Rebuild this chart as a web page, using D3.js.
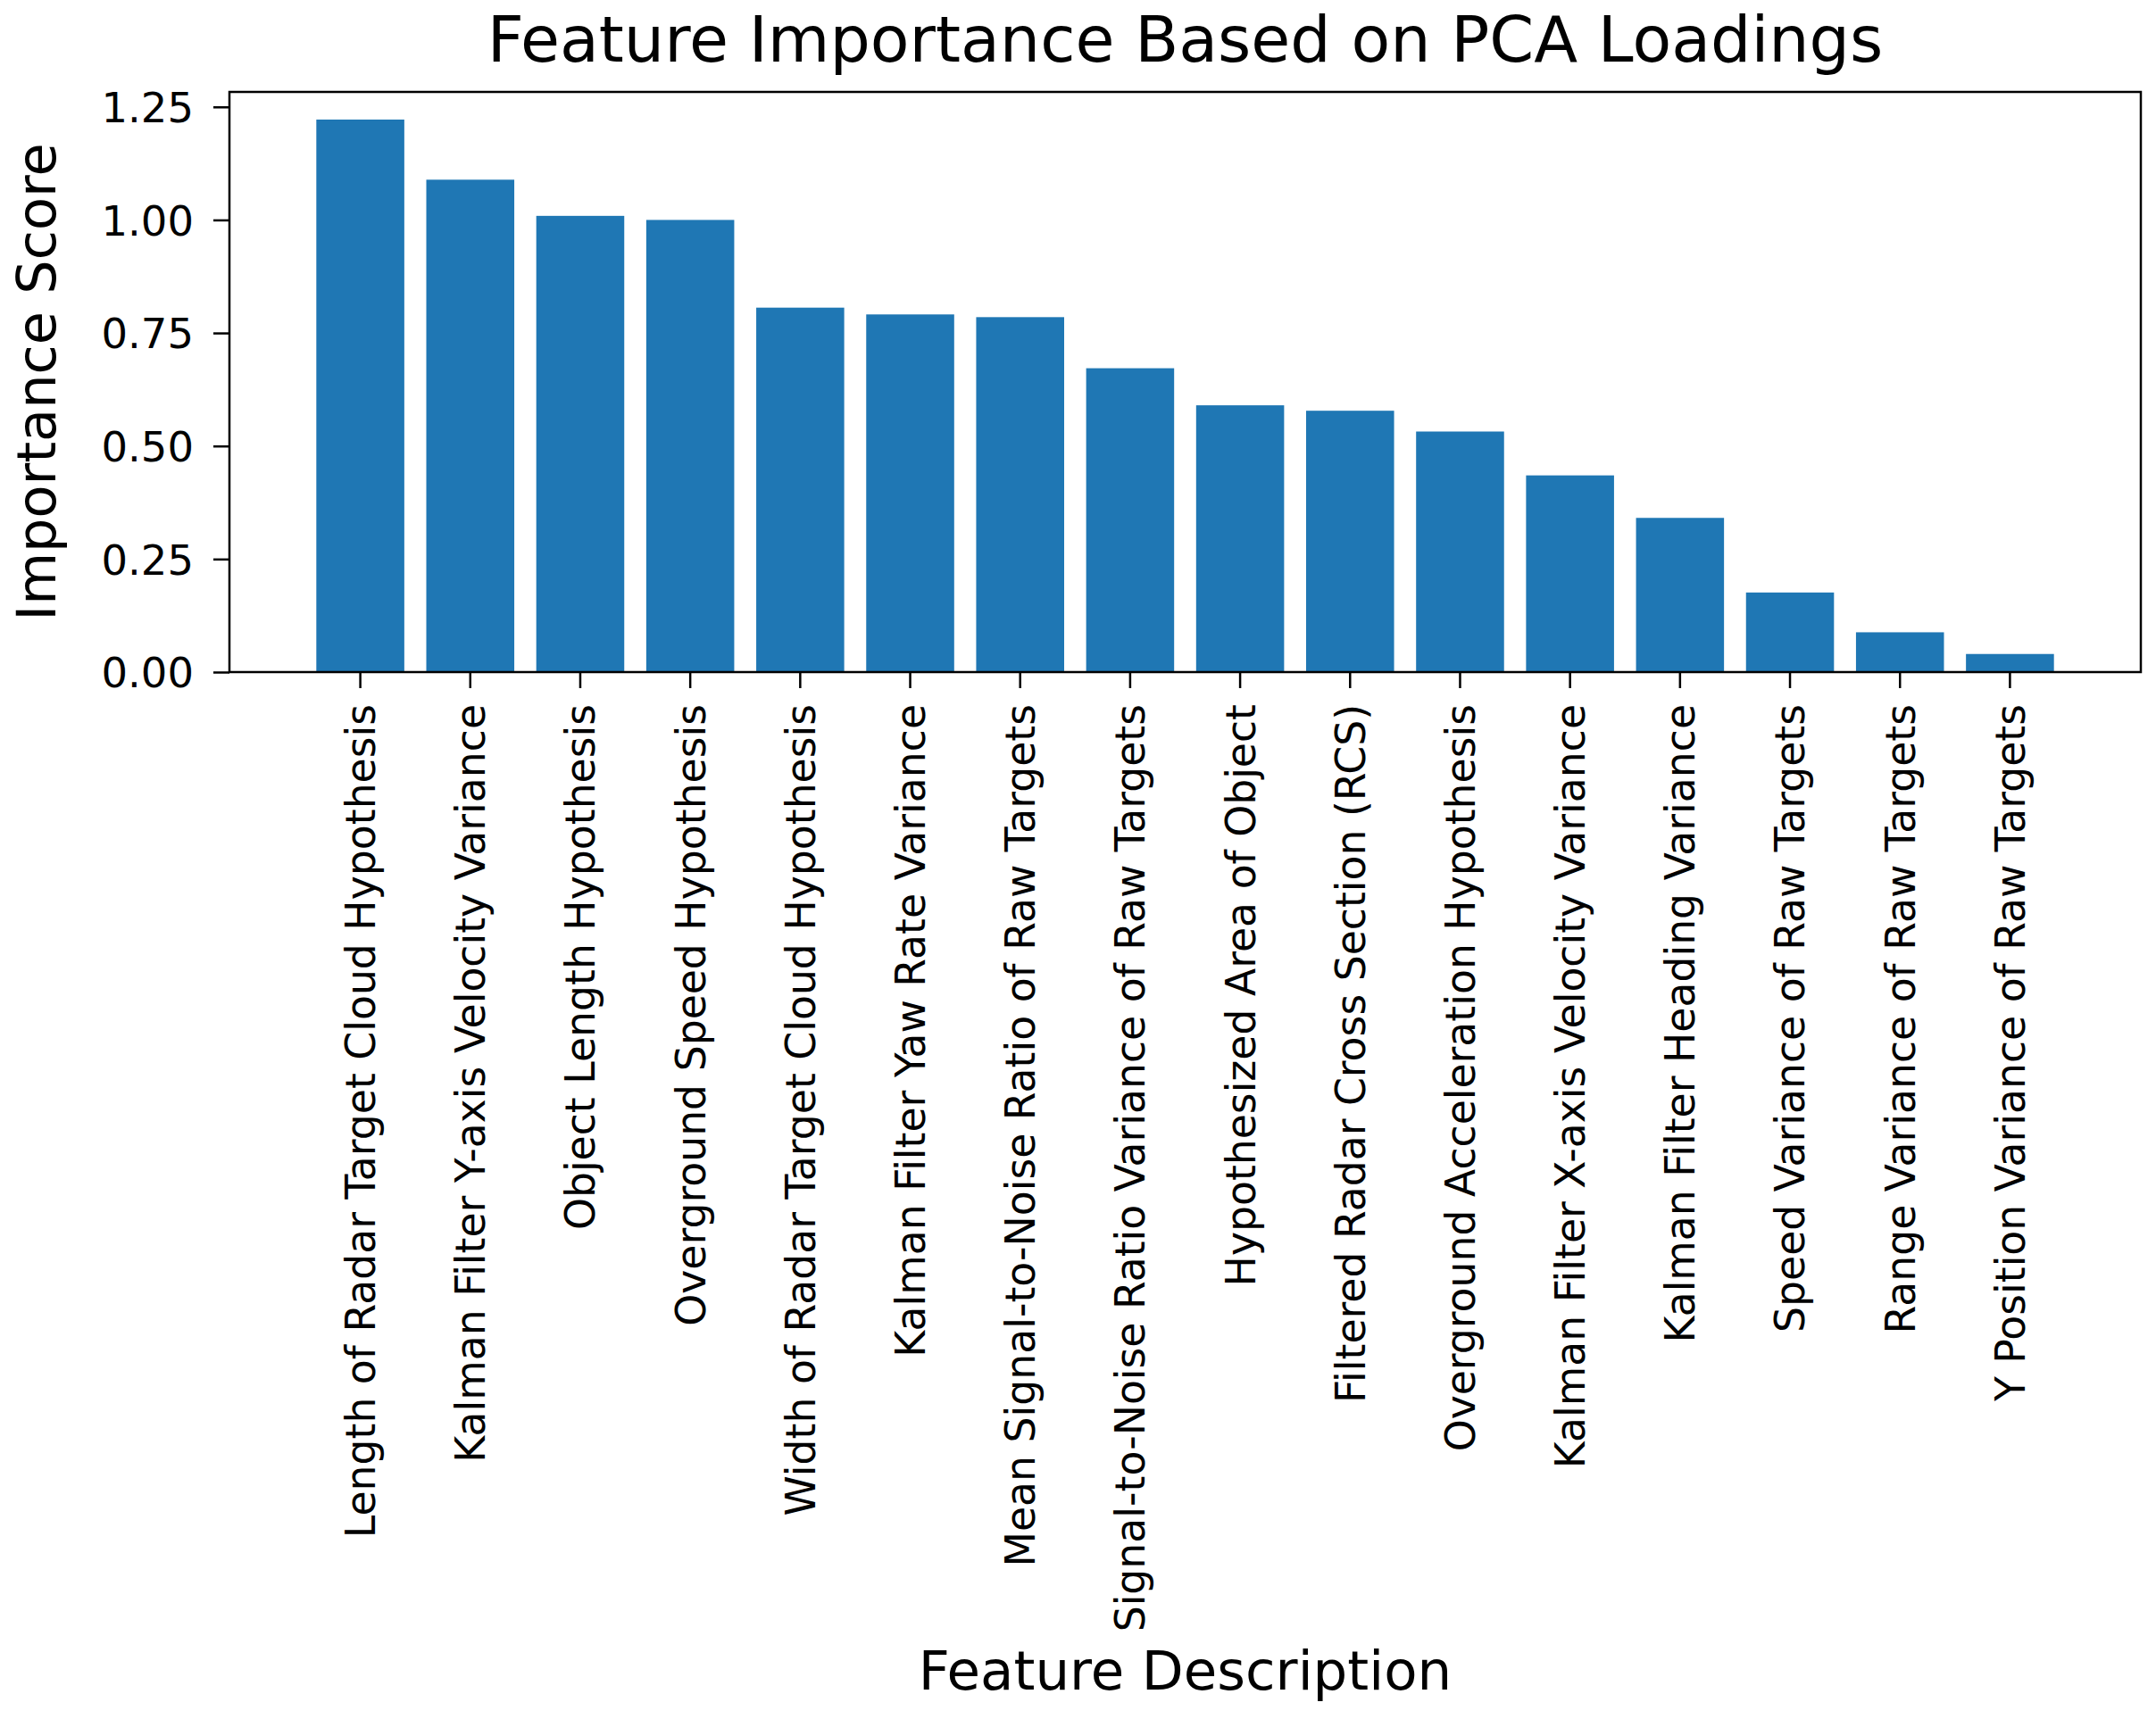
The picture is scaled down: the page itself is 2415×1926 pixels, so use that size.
<!DOCTYPE html>
<html>
<head>
<meta charset="utf-8">
<script src="https://cdn.jsdelivr.net/npm/d3@7"></script>
<style>
  body { margin: 0; background: #fff; }
  text { font-family: "DejaVu Sans", sans-serif; fill: #000; }
</style>
</head>
<body>
<div id="chart"></div>
<script>
var features = [
  "Length of Radar Target Cloud Hypothesis",
  "Kalman Filter Y-axis Velocity Variance",
  "Object Length Hypothesis",
  "Overground Speed Hypothesis",
  "Width of Radar Target Cloud Hypothesis",
  "Kalman Filter Yaw Rate Variance",
  "Mean Signal-to-Noise Ratio of Raw Targets",
  "Signal-to-Noise Ratio Variance of Raw Targets",
  "Hypothesized Area of Object",
  "Filtered Radar Cross Section (RCS)",
  "Overground Acceleration Hypothesis",
  "Kalman Filter X-axis Velocity Variance",
  "Kalman Filter Heading Variance",
  "Speed Variance of Raw Targets",
  "Range Variance of Raw Targets",
  "Y Position Variance of Raw Targets"
];
var scores = [1.222, 1.089, 1.009, 1.000, 0.806, 0.791, 0.785, 0.672,
              0.590, 0.578, 0.532, 0.435, 0.341, 0.176, 0.088, 0.040];
var yTicks = [0, 0.25, 0.5, 0.75, 1.0, 1.25];

var W = 2415, H = 1926;
var margin = {top: 103, right: 17, bottom: 1173, left: 257},
    width = W - margin.left - margin.right,
    height = H - margin.top - margin.bottom;

var svg = d3.select("#chart").append("svg")
    .attr("width", W)
    .attr("height", H);

var g = svg.append("g")
    .attr("transform", "translate(" + margin.left + "," + margin.top + ")");

var x = d3.scaleBand()
    .domain(features)
    .range([0, width])
    .paddingInner(0.2)
    .paddingOuter(0.79);

var y = d3.scaleLinear()
    .domain([0, d3.max(scores) * 1.05])
    .range([height, 0]);

g.selectAll(".bar")
    .data(scores)
  .enter().append("rect")
    .attr("class", "bar")
    .attr("x", function(d, i) { return x(features[i]); })
    .attr("y", function(d) { return y(d); })
    .attr("width", x.bandwidth())
    .attr("height", function(d) { return height - y(d); })
    .attr("fill", "#1f77b4");

var yAxis = d3.axisLeft(y)
    .tickValues(yTicks)
    .tickFormat(d3.format(".2f"))
    .tickSize(18)
    .tickPadding(22);

var xAxis = d3.axisBottom(x)
    .tickSize(18)
    .tickPadding(18);

var ya = g.append("g").call(yAxis);
ya.select(".domain").remove();
ya.selectAll("line").attr("stroke", "#000").attr("stroke-width", 2.5);
ya.selectAll("text").style("font-size", "46.5px").attr("dy", "0.36em");

var xa = g.append("g")
    .attr("transform", "translate(0," + height + ")")
    .call(xAxis);
xa.select(".domain").remove();
xa.selectAll("line").attr("stroke", "#000").attr("stroke-width", 2.5);
xa.selectAll("text")
    .style("font-size", "45.7px")
    .style("text-anchor", "end")
    .attr("transform", "rotate(-90)")
    .attr("x", -36)
    .attr("y", 0)
    .attr("dy", "0.36em");

// frame
g.append("rect")
    .attr("width", width)
    .attr("height", height)
    .attr("fill", "none")
    .attr("stroke", "#000")
    .attr("stroke-width", 2.5);

svg.append("text")
    .attr("x", margin.left + width / 2)
    .attr("y", 69)
    .attr("text-anchor", "middle")
    .style("font-size", "71.5px")
    .text("Feature Importance Based on PCA Loadings");

svg.append("text")
    .attr("x", margin.left + width / 2)
    .attr("y", 1893)
    .attr("text-anchor", "middle")
    .style("font-size", "61px")
    .text("Feature Description");

svg.append("text")
    .attr("transform", "translate(62," + (margin.top + height / 2) + ") rotate(-90)")
    .attr("text-anchor", "middle")
    .style("font-size", "60.5px")
    .text("Importance Score");
</script>
</body>
</html>
